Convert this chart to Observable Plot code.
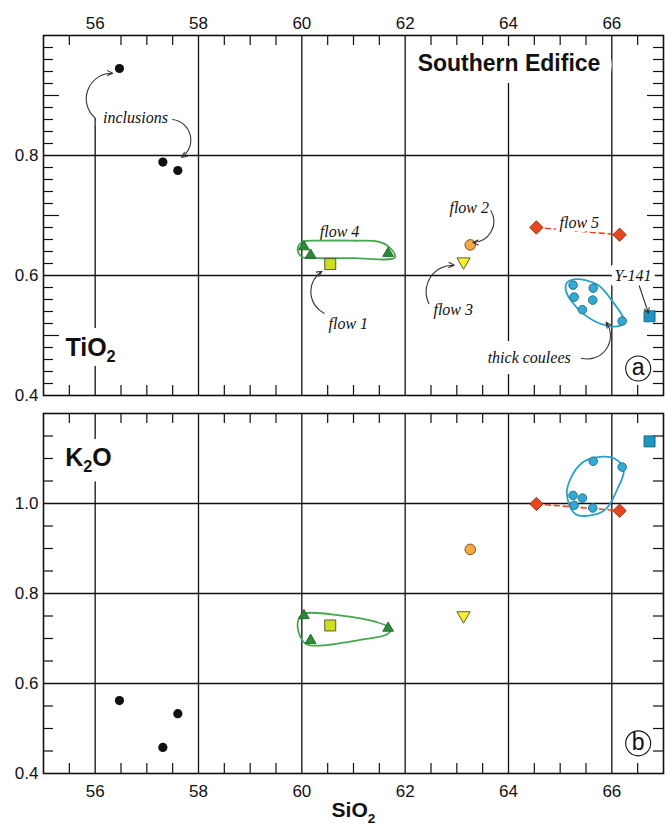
<!DOCTYPE html>
<html>
<head>
<meta charset="utf-8">
<script src="https://cdn.jsdelivr.net/npm/d3@7"></script>
<script src="https://cdn.jsdelivr.net/npm/@observablehq/plot@0.6"></script>
<style>
html,body{margin:0;padding:0;background:#fff;}
#chart svg{display:block;}
</style>
</head>
<body>
<div id="chart"></div>
<script>
// ---------------- data ----------------
const xTicks = [56, 58, 60, 62, 64, 66];
const tiTicks = [0.4, 0.6, 0.8];
const kTicks = [0.4, 0.6, 0.8, 1.0];

const sampleGroup = [
  "inclusions", "inclusions", "inclusions",
  "flow 4", "flow 4", "flow 4",
  "flow 1", "flow 2", "flow 3",
  "flow 5", "flow 5",
  "thick coulees", "thick coulees", "thick coulees", "thick coulees", "thick coulees", "thick coulees",
  "Y-141"
];
const sio2 = [56.47, 57.31, 57.60, 60.04, 60.17, 61.67, 60.55, 63.26, 63.13, 64.54, 66.15, 65.25, 65.27, 65.43, 65.64, 65.63, 66.20, 66.73];
const tio2 = [0.945, 0.789, 0.775, 0.648, 0.634, 0.637, 0.619, 0.651, 0.623, 0.680, 0.668, 0.584, 0.564, 0.543, 0.579, 0.559, 0.524, 0.532];
const k2o  = [0.562, 0.458, 0.533, 0.751, 0.696, 0.723, 0.729, 0.898, 0.751, 0.999, 0.984, 1.018, 0.996, 1.012, 1.094, 0.990, 1.081, 1.138];

// hand-drawn envelopes (data units)
const flow4TiX = [59.92, 60.02, 60.40, 61.00, 61.50, 61.72, 61.80, 61.00, 60.30, 60.00];
const flow4TiY = [0.644, 0.656, 0.658, 0.658, 0.656, 0.645, 0.630, 0.629, 0.629, 0.631];
const couleeTiX = [65.13, 65.30, 65.72, 66.02, 66.24, 66.14, 65.80, 65.45, 65.22, 65.11];
const couleeTiY = [0.588, 0.594, 0.585, 0.556, 0.524, 0.516, 0.519, 0.536, 0.557, 0.575];
const flow4KX = [59.93, 60.04, 60.76, 61.40, 61.72, 61.66, 61.08, 60.30, 60.08, 59.95];
const flow4KY = [0.740, 0.755, 0.751, 0.738, 0.722, 0.710, 0.696, 0.684, 0.688, 0.710];
const couleeKX = [65.42, 65.67, 66.05, 66.23, 66.10, 65.92, 65.75, 65.30, 65.13, 65.20];
const couleeKY = [1.090, 1.102, 1.100, 1.075, 1.030, 0.992, 0.978, 0.976, 1.020, 1.055];

// annotation labels (data coordinates)
const tiNotes = [
  {text: "inclusions", x: 56.78, y: 0.862, halo: 16},
  {text: "flow 4", x: 60.73, y: 0.672, halo: 6},
  {text: "flow 1", x: 60.90, y: 0.520, halo: 6},
  {text: "flow 2", x: 63.24, y: 0.713, halo: 6},
  {text: "flow 3", x: 62.93, y: 0.542, halo: 6},
  {text: "flow 5", x: 65.37, y: 0.688, halo: 8},
  {text: "thick coulees", x: 64.40, y: 0.462, halo: 22},
  {text: "Y-141", x: 66.41, y: 0.600, halo: 12}
];
const tiArrows = [
  {x1: 55.99, y1: 0.863, x2: 56.34, y2: 0.937, bend: 70},
  {x1: 57.50, y1: 0.860, x2: 57.67, y2: 0.797, bend: 70},
  {x1: 60.43, y1: 0.537, x2: 60.39, y2: 0.607, bend: 60},
  {x1: 63.66, y1: 0.708, x2: 63.31, y2: 0.655, bend: 60},
  {x1: 62.46, y1: 0.553, x2: 62.95, y2: 0.617, bend: 60},
  {x1: 65.41, y1: 0.462, x2: 65.89, y2: 0.522, bend: -70},
  {x1: 66.53, y1: 0.583, x2: 66.71, y2: 0.537, bend: 0}
];
const tiTitle = {text: "Southern Edifice", x: 64.01, y: 0.953};
const tiOxide = {text: "TiO2", x: 55.91, y: 0.48};
const kOxide = {text: "K2O", x: 55.87, y: 1.102};
const panelLetterTi = {text: "a", x: 66.51, y: 0.445};
const panelLetterK = {text: "b", x: 66.51, y: 0.467};
const xTitle = {text: "SiO2", x: 61.0, y: 0.4};

// ---------------- styling ----------------
const SANS = "'Liberation Sans', Arial, Helvetica, sans-serif";
const SERIF = "'Liberation Serif', 'Times New Roman', serif";
const INK = "#111";
const W = 665, ML = 43, MR = 2, FW = W - ML - MR, FH = 360;
const TICK = 10, LONG = 16;

const groupStyle = {
  "flow 4":        {symbol: "triangle", r: 4.0, fill: "#2a8c36", stroke: "#1a5a22", sw: 0.8},
  "flow 1":        {symbol: "square",   r: 6.2, fill: "#cfdd22", stroke: "#4a4a28", sw: 0.9},
  "flow 3":        {symbol: "triangle", r: 4.9, fill: "#f7ee2c", stroke: "#4a4a28", sw: 0.9, rotate: 180},
  "flow 2":        {symbol: "circle",   r: 5.3, fill: "#f2a845", stroke: "#6e4c1c", sw: 0.9},
  "flow 5":        {symbol: "diamond2", r: 6.0, fill: "#e8461e", stroke: "#8a2a10", sw: 0.9},
  "thick coulees": {symbol: "circle",   r: 4.3, fill: "#33a9d3", stroke: "#1b6d8c", sw: 0.9},
  "Y-141":         {symbol: "square",   r: 6.2, fill: "#1d96c2", stroke: "#155f7a", sw: 0.9},
  "inclusions":    {symbol: "circle",   r: 4.6, fill: INK, stroke: "none", sw: 0}
};
const groupOrder = ["flow 4", "flow 1", "flow 3", "flow 2", "flow 5", "thick coulees", "Y-141", "inclusions"];

const samples = sio2.map((x, i) => ({group: sampleGroup[i], sio2: x, tio2: tio2[i], k2o: k2o[i]}));

function dotMarks(yKey) {
  return groupOrder.map(g => {
    const s = groupStyle[g];
    return Plot.dot(samples.filter(d => d.group === g), {
      x: "sio2", y: yKey, symbol: s.symbol, r: s.r, fill: s.fill,
      stroke: s.stroke, strokeWidth: s.sw, rotate: s.rotate || 0
    });
  });
}

function tickMarks(yShort, yLong) {
  const xMinor = d3.range(111, 134).map(i => i / 2).filter(v => !xTicks.includes(v));
  const o = {stroke: INK, strokeWidth: 1.2};
  const m = [
    Plot.ruleX(xMinor, {...o, insetBottom: FH - TICK}),
    Plot.ruleX(xMinor, {...o, insetTop: FH - TICK}),
    Plot.ruleY(yShort, {...o, insetRight: FW - TICK}),
    Plot.ruleY(yShort, {...o, insetLeft: FW - TICK})
  ];
  if (yLong.length) {
    m.push(Plot.ruleY(yLong, {...o, insetRight: FW - LONG}));
    m.push(Plot.ruleY(yLong, {...o, insetLeft: FW - LONG}));
  }
  return m;
}

// white knockout layer (under) + text layer (over)
function haloOnly(d, opts, halo) {
  return Plot.text([d], {x: "x", y: "y", text: "text", fill: "white", stroke: "white", strokeWidth: halo, ...opts});
}
function plainText(d, opts) {
  return Plot.text([d], {x: "x", y: "y", text: "text", fill: INK, ...opts});
}

const noteFont = {fontFamily: SERIF, fontStyle: "italic", fontSize: 16};
const titleFont = {fontFamily: SANS, fontWeight: "bold", fontSize: 23};
const oxideFont = {fontFamily: SANS, fontWeight: "bold", fontSize: 25};

function letterMarks(L) {
  return [
    Plot.dot([L], {x: "x", y: "y", r: 12.5, fill: "white", stroke: INK, strokeWidth: 1.1}),
    Plot.text([L], {x: "x", y: "y", text: "text", fontFamily: SANS, fontSize: 23, fill: INK, dy: -1})
  ];
}

function arrowMarks(list) {
  return list.map(a => Plot.arrow([a], {
    x1: "x1", y1: "y1", x2: "x2", y2: "y2", bend: a.bend,
    stroke: "#333", strokeWidth: 1.1, headLength: 8, headAngle: 50
  }));
}

function subscripts(svg) {
  const map = {"TiO2": ["TiO", "2", ""], "K2O": ["K", "2", "O"], "SiO2": ["SiO", "2", ""]};
  d3.select(svg).selectAll("text").each(function () {
    const parts = map[this.textContent];
    if (!parts) return;
    const el = d3.select(this);
    el.text(null);
    el.append("tspan").text(parts[0]);
    el.append("tspan").attr("font-size", "65%").attr("dy", "0.4em").text(parts[1]);
    if (parts[2]) el.append("tspan").attr("dy", "-0.26em").text(parts[2]);
  });
}

const tiShort = d3.range(21, 50).filter(i => i % 5 !== 0).map(i => i / 50);
const tiLong = [25, 35, 45].map(i => i / 50);
const kShort = d3.range(9, 24).filter(i => ![12, 16, 20].includes(i)).map(i => i / 20);

const gridStyle = {stroke: INK, strokeWidth: 1.3};

// ---------------- top panel (TiO2) ----------------
const topPlot = Plot.plot({
  width: W, height: 402, marginTop: 35, marginBottom: 7, marginLeft: ML, marginRight: MR,
  style: {fontFamily: SANS, fontSize: "17px", color: INK, background: "white", overflow: "visible"},
  x: {domain: [55, 67], axis: "top", ticks: xTicks, tickSize: 0, tickPadding: 7, label: null},
  y: {domain: [0.4, 1.0], ticks: tiTicks, tickSize: 0, tickPadding: 5, tickFormat: d3.format(".1f"), label: null},
  marks: [
    Plot.ruleX(xTicks.filter(v => v !== 56), gridStyle),
    Plot.ruleX([56], {...gridStyle, y1: 0.4, y2: tiNotes[0].y}),
    Plot.ruleY(tiTicks.filter(v => v > 0.4), gridStyle),
    Plot.line(samples.filter(d => d.group === "flow 5"), {x: "sio2", y: "tio2", stroke: "#e8461e", strokeWidth: 1.6, strokeDasharray: "5,4"}),
    ...tiNotes.map(n => haloOnly(n, noteFont, n.halo)),
    haloOnly(tiTitle, titleFont, 24),
    haloOnly(tiOxide, oxideFont, 20),
    ...tiNotes.map(n => plainText(n, noteFont)),
    plainText(tiTitle, titleFont),
    plainText(tiOxide, oxideFont),
    ...tickMarks(tiShort, tiLong),
    Plot.line(flow4TiX.map((x, i) => ({x, y: flow4TiY[i]})), {x: "x", y: "y", curve: "catmull-rom-closed", stroke: "#45a84f", strokeWidth: 1.8}),
    Plot.line(couleeTiX.map((x, i) => ({x, y: couleeTiY[i]})), {x: "x", y: "y", curve: "catmull-rom-closed", stroke: "#26a2c2", strokeWidth: 1.8}),
    ...dotMarks("tio2"),
    ...arrowMarks(tiArrows),
    ...letterMarks(panelLetterTi),
    Plot.frame({stroke: INK, strokeWidth: 1.6})
  ]
});

// ---------------- bottom panel (K2O) ----------------
const bottomPlot = Plot.plot({
  width: W, height: 427, marginTop: 11, marginBottom: 56, marginLeft: ML, marginRight: MR,
  style: {fontFamily: SANS, fontSize: "17px", color: INK, background: "white", overflow: "visible"},
  x: {domain: [55, 67], axis: "bottom", ticks: xTicks, tickSize: 0, tickPadding: 11, label: null},
  y: {domain: [0.4, 1.2], ticks: kTicks, tickSize: 0, tickPadding: 5, tickFormat: d3.format(".1f"), label: null},
  marks: [
    Plot.ruleX(xTicks, gridStyle),
    Plot.ruleY(kTicks.filter(v => v > 0.4), gridStyle),
    Plot.line(samples.filter(d => d.group === "flow 5"), {x: "sio2", y: "k2o", stroke: "#e8461e", strokeWidth: 1.6, strokeDasharray: "5,4"}),
    haloOnly(kOxide, oxideFont, 20),
    plainText(kOxide, oxideFont),
    ...tickMarks(kShort, []),
    Plot.line(flow4KX.map((x, i) => ({x, y: flow4KY[i]})), {x: "x", y: "y", curve: "catmull-rom-closed", stroke: "#45a84f", strokeWidth: 1.8}),
    Plot.line(couleeKX.map((x, i) => ({x, y: couleeKY[i]})), {x: "x", y: "y", curve: "catmull-rom-closed", stroke: "#26a2c2", strokeWidth: 1.8}),
    ...dotMarks("k2o"),
    ...letterMarks(panelLetterK),
    plainText(xTitle, {fontFamily: SANS, fontWeight: "bold", fontSize: 21, dy: 37}),
    Plot.frame({stroke: INK, strokeWidth: 1.6})
  ]
});

subscripts(topPlot);
subscripts(bottomPlot);
document.getElementById("chart").append(topPlot, bottomPlot);
</script>
</body>
</html>
